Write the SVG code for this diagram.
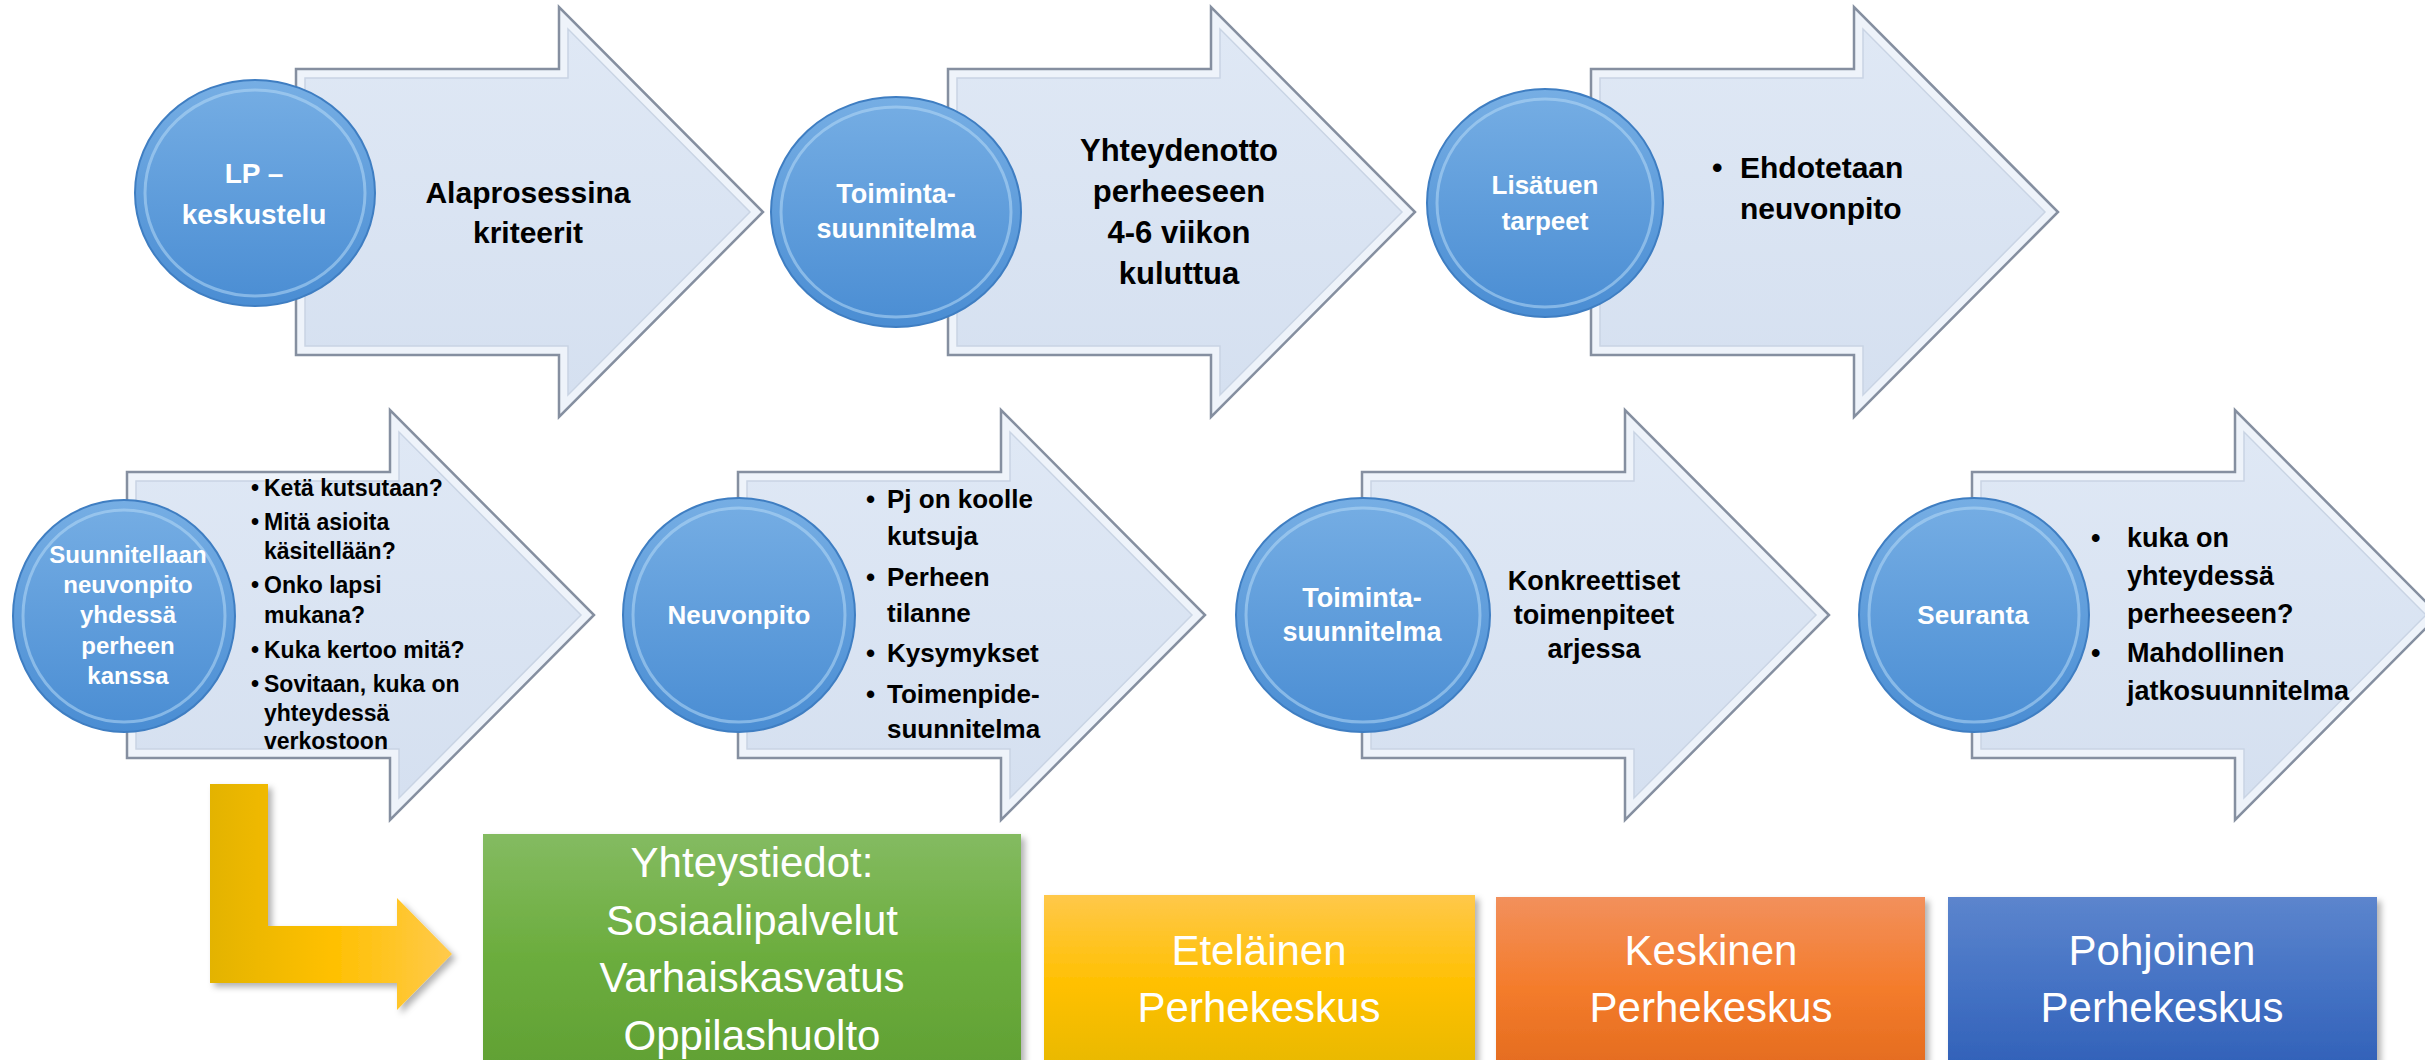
<svg xmlns="http://www.w3.org/2000/svg" width="2425" height="1060" viewBox="0 0 2425 1060">
<style>
.chev-out{fill:#eef3fa;stroke:#858fa0;stroke-width:2.5}
.chev-in{fill:url(#arrowFill);stroke:#c9d4e4;stroke-width:1.5}
.circ{fill:url(#circleFill);stroke:#3f7ec2;stroke-width:2}
.ring{fill:none;stroke:#b4d8f6;stroke-opacity:0.55;stroke-width:3}
.ct{font-family:"Liberation Sans",Arial,sans-serif;font-weight:bold;fill:#ffffff;text-anchor:middle}
.at{font-family:"Liberation Sans",Arial,sans-serif;font-weight:bold;fill:#000000}
.mid{text-anchor:middle}
.bt{font-family:"Liberation Sans",Arial,sans-serif;fill:#ffffff;text-anchor:middle;font-size:42px}
</style>
<defs>
<linearGradient id="arrowFill" x1="0" y1="0" x2="0" y2="1">
<stop offset="0" stop-color="#dfe8f5"/><stop offset="1" stop-color="#d5e0f0"/>
</linearGradient>
<linearGradient id="circleFill" x1="0" y1="0" x2="0" y2="1">
<stop offset="0" stop-color="#76aee4"/><stop offset="1" stop-color="#4a8dd3"/>
</linearGradient>
<linearGradient id="gGreen" x1="0" y1="0" x2="0" y2="1">
<stop offset="0" stop-color="#84bb61"/><stop offset="0.5" stop-color="#6cad3e"/><stop offset="1" stop-color="#60a033"/>
</linearGradient>
<linearGradient id="gYellow" x1="0" y1="0" x2="0" y2="1">
<stop offset="0" stop-color="#ffc84a"/><stop offset="0.5" stop-color="#ffc000"/><stop offset="1" stop-color="#e6b800"/>
</linearGradient>
<linearGradient id="gOrange" x1="0" y1="0" x2="0" y2="1">
<stop offset="0" stop-color="#f2905c"/><stop offset="0.5" stop-color="#f47c2c"/><stop offset="1" stop-color="#e26a1d"/>
</linearGradient>
<linearGradient id="gBlue" x1="0" y1="0" x2="0" y2="1">
<stop offset="0" stop-color="#5c85cd"/><stop offset="0.5" stop-color="#4472c4"/><stop offset="1" stop-color="#2f5fb7"/>
</linearGradient>
<linearGradient id="gBent" x1="0" y1="0" x2="1" y2="0">
<stop offset="0" stop-color="#e3b300"/><stop offset="0.5" stop-color="#ffc000"/><stop offset="1" stop-color="#ffca4c"/>
</linearGradient>
<filter id="shadow" x="-10%" y="-10%" width="130%" height="130%">
<feDropShadow dx="4" dy="4" stdDeviation="3" flood-color="#000000" flood-opacity="0.3"/>
</filter>
<path id="chev" d="M0,-143 L263,-143 L263,-205 L467,0 L263,205 L263,143 L0,143 Z"/>
<path id="chevIn" d="M9,-134 L272,-134 L272,-183 L454,0 L272,183 L272,134 L9,134 Z"/>
</defs>
<rect x="0" y="0" width="2425" height="1060" fill="#ffffff"/>

<g id="node-lp">
<g transform="translate(296,212)"><use href="#chev" class="chev-out"/><use href="#chevIn" class="chev-in"/></g>
<text class="at mid" font-size="30" x="528" y="203">Alaprosessina</text>
<text class="at mid" font-size="30" x="528" y="243">kriteerit</text>
<ellipse class="circ" cx="255" cy="193" rx="120" ry="113"/>
<ellipse class="ring" cx="255" cy="193" rx="110" ry="103"/>
<text class="ct" font-size="28" x="254" y="183">LP –</text>
<text class="ct" font-size="28" x="254" y="224">keskustelu</text>
</g>

<g id="node-toiminta1">
<g transform="translate(948,212)"><use href="#chev" class="chev-out"/><use href="#chevIn" class="chev-in"/></g>
<text class="at mid" font-size="31" x="1179" y="161">Yhteydenotto</text>
<text class="at mid" font-size="31" x="1179" y="202">perheeseen</text>
<text class="at mid" font-size="31" x="1179" y="243">4-6 viikon</text>
<text class="at mid" font-size="31" x="1179" y="284">kuluttua</text>
<ellipse class="circ" cx="896" cy="212" rx="125" ry="115"/>
<ellipse class="ring" cx="896" cy="212" rx="115" ry="105"/>
<text class="ct" font-size="27" x="896" y="203">Toiminta-</text>
<text class="ct" font-size="27" x="896" y="238">suunnitelma</text>
</g>

<g id="node-lisatuen">
<g transform="translate(1591,212)"><use href="#chev" class="chev-out"/><use href="#chevIn" class="chev-in"/></g>
<text class="at" font-size="30" x="1712" y="178">•</text>
<text class="at" font-size="30" x="1740" y="178">Ehdotetaan</text>
<text class="at" font-size="30" x="1740" y="219">neuvonpito</text>
<ellipse class="circ" cx="1545" cy="203" rx="118" ry="114"/>
<ellipse class="ring" cx="1545" cy="203" rx="108" ry="104"/>
<text class="ct" font-size="26" x="1545" y="194">Lisätuen</text>
<text class="ct" font-size="26" x="1545" y="230">tarpeet</text>
</g>

<g id="node-suunnitellaan">
<g transform="translate(127,615)"><use href="#chev" class="chev-out"/><use href="#chevIn" class="chev-in"/></g>
<g class="at" font-size="23">
<text x="251" y="496">•</text><text x="264" y="496">Ketä kutsutaan?</text>
<text x="251" y="530">•</text><text x="264" y="530">Mitä asioita</text>
<text x="264" y="559">käsitellään?</text>
<text x="251" y="593">•</text><text x="264" y="593">Onko lapsi</text>
<text x="264" y="623">mukana?</text>
<text x="251" y="658">•</text><text x="264" y="658">Kuka kertoo mitä?</text>
<text x="251" y="692">•</text><text x="264" y="692">Sovitaan, kuka on</text>
<text x="264" y="721">yhteydessä</text>
<text x="264" y="749">verkostoon</text>
</g>
<ellipse class="circ" cx="124" cy="616" rx="111" ry="116"/>
<ellipse class="ring" cx="124" cy="616" rx="101" ry="106"/>
<g class="ct" font-size="24">
<text x="128" y="563">Suunnitellaan</text>
<text x="128" y="593">neuvonpito</text>
<text x="128" y="623">yhdessä</text>
<text x="128" y="654">perheen</text>
<text x="128" y="684">kanssa</text>
</g>
</g>

<g id="node-neuvonpito">
<g transform="translate(738,615)"><use href="#chev" class="chev-out"/><use href="#chevIn" class="chev-in"/></g>
<g class="at" font-size="26">
<text x="866" y="508">•</text><text x="887" y="508">Pj on koolle</text>
<text x="887" y="545">kutsuja</text>
<text x="866" y="586">•</text><text x="887" y="586">Perheen</text>
<text x="887" y="622">tilanne</text>
<text x="866" y="662">•</text><text x="887" y="662">Kysymykset</text>
<text x="866" y="703">•</text><text x="887" y="703">Toimenpide-</text>
<text x="887" y="738">suunnitelma</text>
</g>
<ellipse class="circ" cx="739" cy="615" rx="116" ry="117"/>
<ellipse class="ring" cx="739" cy="615" rx="106" ry="107"/>
<text class="ct" font-size="26" x="739" y="624">Neuvonpito</text>
</g>

<g id="node-toiminta2">
<g transform="translate(1362,615)"><use href="#chev" class="chev-out"/><use href="#chevIn" class="chev-in"/></g>
<text class="at mid" font-size="27" x="1594" y="590">Konkreettiset</text>
<text class="at mid" font-size="27" x="1594" y="624">toimenpiteet</text>
<text class="at mid" font-size="27" x="1594" y="658">arjessa</text>
<ellipse class="circ" cx="1363" cy="615" rx="127" ry="117"/>
<ellipse class="ring" cx="1363" cy="615" rx="117" ry="107"/>
<text class="ct" font-size="27" x="1362" y="607">Toiminta-</text>
<text class="ct" font-size="27" x="1362" y="641">suunnitelma</text>
</g>

<g id="node-seuranta">
<g transform="translate(1972,615)"><use href="#chev" class="chev-out"/><use href="#chevIn" class="chev-in"/></g>
<g class="at" font-size="27">
<text x="2091" y="547">•</text><text x="2127" y="547">kuka on</text>
<text x="2127" y="585">yhteydessä</text>
<text x="2127" y="623">perheeseen?</text>
<text x="2091" y="662">•</text><text x="2127" y="662">Mahdollinen</text>
<text x="2127" y="700">jatkosuunnitelma</text>
</g>
<ellipse class="circ" cx="1974" cy="615" rx="115" ry="117"/>
<ellipse class="ring" cx="1974" cy="615" rx="105" ry="107"/>
<text class="ct" font-size="26" x="1973" y="624">Seuranta</text>
</g>

<g id="connectors">
<path d="M210,784 L268,784 L268,926 L397,926 L397,898 L452,954 L397,1010 L397,983 L210,983 Z" fill="url(#gBent)" filter="url(#shadow)"/>
</g>

<g id="node-yhteystiedot">
<rect x="483" y="834" width="538" height="240" fill="url(#gGreen)" filter="url(#shadow)"/>
<text class="bt" x="752" y="877">Yhteystiedot:</text>
<text class="bt" x="752" y="935">Sosiaalipalvelut</text>
<text class="bt" x="752" y="992">Varhaiskasvatus</text>
<text class="bt" x="752" y="1050">Oppilashuolto</text>
</g>

<g id="node-etelainen">
<rect x="1044" y="895" width="431" height="180" fill="url(#gYellow)" filter="url(#shadow)"/>
<text class="bt" x="1259" y="965">Eteläinen</text>
<text class="bt" x="1259" y="1022">Perhekeskus</text>
</g>

<g id="node-keskinen">
<rect x="1496" y="897" width="429" height="180" fill="url(#gOrange)" filter="url(#shadow)"/>
<text class="bt" x="1711" y="965">Keskinen</text>
<text class="bt" x="1711" y="1022">Perhekeskus</text>
</g>

<g id="node-pohjoinen">
<rect x="1948" y="897" width="429" height="180" fill="url(#gBlue)" filter="url(#shadow)"/>
<text class="bt" x="2162" y="965">Pohjoinen</text>
<text class="bt" x="2162" y="1022">Perhekeskus</text>
</g>
</svg>
